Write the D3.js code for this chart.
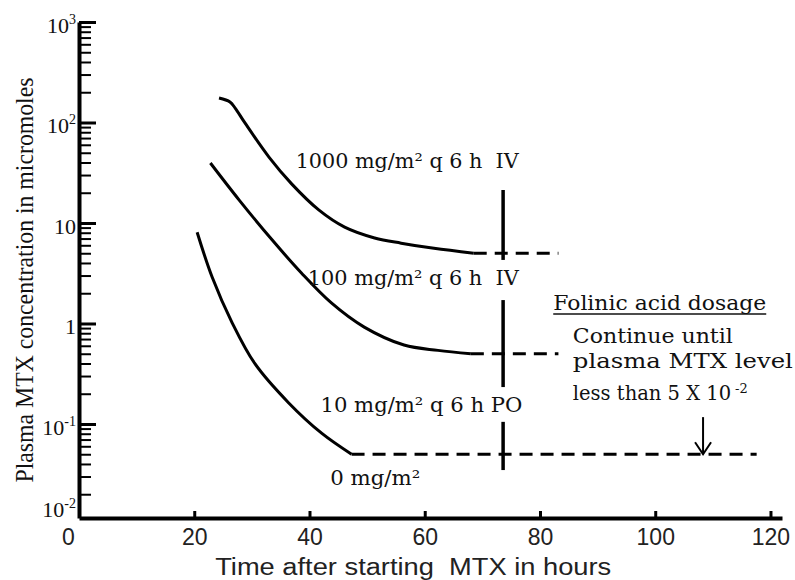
<!DOCTYPE html>
<html lang="en">
<head>
    <meta charset="UTF-8">
    <title>Plasma MTX concentration vs time</title>
    <script src="https://d3js.org/d3.v7.min.js"></script>
    <style>
        body { margin: 0; background: #fff; }
        .serif { font-family: "Liberation Serif", "Times New Roman", serif; fill: #111; }
        .note { font-family: "DejaVu Serif", "Liberation Serif", serif; fill: #111; }
        .sans { font-family: "Liberation Sans", Arial, sans-serif; fill: #222; }
        .curve { fill: none; stroke: #000; stroke-width: 3; }
        .dash { fill: none; stroke: #000; stroke-width: 3; stroke-dasharray: 13 8; }
    </style>
</head>
<body>
    <div id="chart"></div>
    <script>
        // curves (hours, micromoles)
        const hours1000 = [24.3, 26.2, 27.1, 28.8, 33.0, 36.9, 41.6, 46.1, 51.3, 55.9, 61.6, 68.5];
        const conc1000 = [175, 160, 139, 99, 45, 24.5, 13.5, 9.1, 7.1, 6.3, 5.6, 5.0];
        const hours100 = [22.8, 27.8, 33.5, 38.6, 43.8, 49.5, 56.4, 62.3, 68.0];
        const conc100 = [39.5, 16.9, 6.8, 3.18, 1.6, 0.92, 0.61, 0.54, 0.5];
        const hours0 = [20.5, 23.1, 26.6, 30.5, 36.4, 42.1, 47.3];
        const conc0 = [8.1, 2.9, 1.01, 0.40, 0.162, 0.081, 0.05];

        // dashed plateaus: level, from, to
        const plateauLevel = [5, 0.5, 0.05];
        const plateauFrom = [68.5, 68.0, 47.3];
        const plateauTo = [83.2, 83.2, 117.6];

        // vertical marker at ~74 h, split in three pieces
        const markerHour = 73.6;
        const markerTop = [21.3, 1.71, 0.105];
        const markerBottom = [4.29, 0.233, 0.0348];

        // arrow "until below 5 x 10^-2"
        const arrowHour = 108.3;
        const arrowFrom = 0.117;
        const arrowTo = 0.05;

        const xTicks = [0, 20, 40, 60, 80, 100, 120];
        const yMajor = [0.1, 1, 10, 100, 1000];
        const yLabels = [
            { v: 1000, base: "10", exp: "3" },
            { v: 100, base: "10", exp: "2" },
            { v: 10, base: "10", exp: "" },
            { v: 1, base: "1", exp: "" },
            { v: 0.1, base: "10", exp: "-1" },
            { v: 0.01, base: "10", exp: "-2" }
        ];

        const width = 795, height = 580;
        const svg = d3.select("#chart").append("svg")
            .attr("width", width)
            .attr("height", height);

        const x = d3.scaleLinear().domain([0, 122]).range([79, 782]);
        const y = d3.scaleLog().domain([0.0116, 1000]).range([518, 22]);

        // minor ticks 2..9 in each decade
        const yMinor = [];
        [-2, -1, 0, 1, 2].forEach(k => {
            for (let m = 2; m <= 9; m++) {
                const v = m * Math.pow(10, k);
                if (v > y.domain()[0] && v < 1000) yMinor.push(v);
            }
        });

        // x axis
        const gx = svg.append("g")
            .attr("transform", "translate(0," + y.range()[0] + ")")
            .call(d3.axisBottom(x).tickValues(xTicks).tickSizeInner(-7).tickSizeOuter(0).tickPadding(11));
        gx.select(".domain").attr("stroke", "#000").attr("stroke-width", 4);
        gx.selectAll(".tick line").attr("stroke", "#000").attr("stroke-width", 3);
        gx.selectAll(".tick text")
            .attr("class", "sans")
            .style("font-size", "23px")
            .attr("fill", "#222")
            .attr("dx", d => d === 0 ? -11 : 0);

        // y axis: minor then major ticks, pointing into the plot
        const gyMinor = svg.append("g")
            .attr("transform", "translate(" + x(0) + ",0)")
            .call(d3.axisLeft(y).tickValues(yMinor).tickSizeInner(-12).tickSizeOuter(0).tickFormat(""));
        gyMinor.select(".domain").remove();
        gyMinor.selectAll(".tick line").attr("stroke", "#000").attr("stroke-width", 2);

        const gy = svg.append("g")
            .attr("transform", "translate(" + x(0) + ",0)")
            .call(d3.axisLeft(y).tickValues(yMajor).tickSizeInner(-17).tickSizeOuter(0).tickFormat(""));
        gy.select(".domain").attr("stroke", "#000").attr("stroke-width", 4);
        gy.selectAll(".tick line").attr("stroke", "#000").attr("stroke-width", 3);

        // y tick labels with superscripts
        const yl = svg.append("g").selectAll("text")
            .data(yLabels)
            .enter()
            .append("text")
            .attr("class", "serif")
            .attr("text-anchor", "end")
            .attr("x", x(0) - 3)
            .attr("y", d => Math.min(y(d.v) + 11, y.range()[0] - 1))
            .style("font-size", "22px");
        yl.append("tspan").text(d => d.base);
        yl.filter(d => d.exp !== "").append("tspan")
            .attr("dy", -9)
            .style("font-size", "14px")
            .text(d => d.exp);

        // axis titles
        svg.append("text")
            .attr("class", "sans")
            .attr("text-anchor", "middle")
            .attr("x", x(58))
            .attr("y", 575)
            .attr("textLength", 396)
            .attr("lengthAdjust", "spacingAndGlyphs")
            .style("font-size", "23px")
            .style("white-space", "pre")
            .text("Time after starting  MTX in hours");

        svg.append("text")
            .attr("class", "serif")
            .attr("text-anchor", "middle")
            .attr("transform", "translate(33,280) rotate(-90)")
            .attr("textLength", 405)
            .attr("lengthAdjust", "spacingAndGlyphs")
            .style("font-size", "25px")
            .text("Plasma MTX concentration in micromoles");

        // curves
        const line = d3.line()
            .x(d => x(d[0]))
            .y(d => y(d[1]))
            .curve(d3.curveCatmullRom.alpha(0.5));

        [[hours1000, conc1000], [hours100, conc100], [hours0, conc0]].forEach(([h, c]) => {
            svg.append("path")
                .attr("class", "curve")
                .attr("d", line(d3.zip(h, c)));
        });

        plateauLevel.forEach((lv, i) => {
            svg.append("line")
                .attr("class", "dash")
                .attr("x1", x(plateauFrom[i]))
                .attr("x2", x(plateauTo[i]))
                .attr("y1", y(lv))
                .attr("y2", y(lv));
        });

        markerTop.forEach((t, i) => {
            svg.append("line")
                .attr("stroke", "#000")
                .attr("stroke-width", 3.5)
                .attr("x1", x(markerHour)).attr("x2", x(markerHour))
                .attr("y1", y(t)).attr("y2", y(markerBottom[i]));
        });

        // arrow
        const ax = x(arrowHour), ay = y(arrowTo);
        svg.append("line")
            .attr("stroke", "#000").attr("stroke-width", 2)
            .attr("x1", ax).attr("x2", ax)
            .attr("y1", y(arrowFrom)).attr("y2", ay);
        svg.append("path")
            .attr("fill", "none").attr("stroke", "#000").attr("stroke-width", 2)
            .attr("d", "M" + (ax - 8) + "," + (ay - 12) + "L" + ax + "," + ay + "L" + (ax + 8) + "," + (ay - 12));

        // annotations: text, left hour, baseline value, width
        const notes = [
            { t: "1000 mg/m² q 6 h  IV", h: 37.6, v: 35.2, w: 223 },
            { t: "100 mg/m² q 6 h  IV", h: 39.7, v: 2.42, w: 211 },
            { t: "10 mg/m² q 6 h PO", h: 41.9, v: 0.1315, w: 202 },
            { t: "0 mg/m²", h: 43.6, v: 0.0247, w: 90 },
            { t: "Folinic acid dosage", h: 82.3, v: 1.36, w: 213 },
            { t: "Continue until", h: 85.7, v: 0.64, w: 160 },
            { t: "plasma MTX level", h: 85.7, v: 0.36, w: 220 }
        ];
        notes.forEach(n => {
            svg.append("text")
                .attr("class", "note")
                .attr("x", x(n.h))
                .attr("y", y(n.v))
                .attr("textLength", n.w)
                .attr("lengthAdjust", "spacingAndGlyphs")
                .style("font-size", "21px")
                .style("white-space", "pre")
                .text(n.t);
        });
        // underline for the heading
        const head = notes[4];
        svg.append("line")
            .attr("stroke", "#111").attr("stroke-width", 1.5)
            .attr("x1", x(head.h)).attr("x2", x(head.h) + head.w)
            .attr("y1", y(head.v) + 4).attr("y2", y(head.v) + 4);

        // "less than 5 X 10^-2" at its natural width, exponent placed after it
        const lessText = svg.append("text")
            .attr("class", "note")
            .attr("x", x(85.7))
            .attr("y", y(0.175))
            .style("font-size", "19.5px")
            .text("less than 5 X 10");
        const lessEnd = x(85.7) + lessText.node().getComputedTextLength();
        svg.append("text")
            .attr("class", "note")
            .attr("x", lessEnd + 4)
            .attr("y", y(0.175) - 7)
            .style("font-size", "13px")
            .text("-2");
    </script>
</body>
</html>
